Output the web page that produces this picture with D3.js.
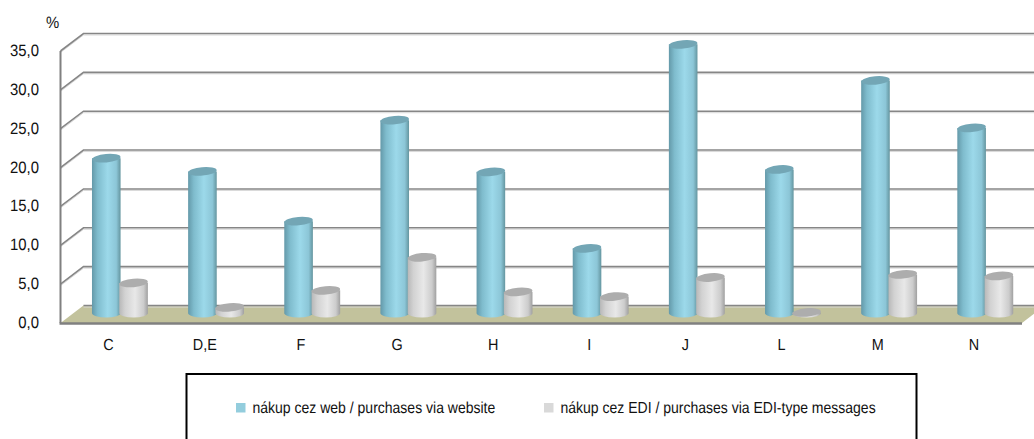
<!DOCTYPE html>
<html><head><meta charset="utf-8"><script src="https://cdn.jsdelivr.net/npm/d3@7/dist/d3.min.js"></script>
<style>html,body{margin:0;padding:0;background:#fff}svg{display:block}text{font-family:"Liberation Sans",Arial,sans-serif;fill:#111;text-rendering:geometricPrecision}</style></head><body>
<svg id="c" width="1034" height="439"></svg>
<script>
const categories=["C","D,E","F","G","H","I","J","L","M","N"];
const webValues=[19.95,18.25,11.85,24.85,18.2,8.35,34.6,18.5,29.95,23.85];
const ediValues=[3.9,0.75,2.95,7.2,2.75,2.15,4.6,0.1,5.0,4.8];
const yTicks=[0,5,10,15,20,25,30,35];
const seriesNames=["nákup cez web / purchases via website","nákup cez EDI / purchases via EDI-type messages"];
const svg=d3.select("#c"),defs=svg.append("defs");
function grad(id,stops){const g=defs.append("linearGradient").attr("id",id);stops.forEach(([o,c])=>g.append("stop").attr("offset",o).attr("stop-color",c));}
grad("gw",[[0,"#6499a9"],[.2,"#7fbccd"],[.55,"#9cd9ea"],[.85,"#8cc6d7"],[1,"#64959f"]]);
grad("ge",[[0,"#b8b8b8"],[.2,"#d2d2d2"],[.55,"#e8e8e8"],[.85,"#cccccc"],[1,"#a0a0a0"]]);
const frontY=d3.scaleLinear().domain([0,35]).range([323,51]);
const dx=23,dy=-17.5;
const x=d3.scaleBand().domain(categories).range([60.5,1022]);
const barY=v=>frontY(v)+dy/2-1;
const g=svg.append("g");
const right=1040;
g.append("path").attr("d",d3.line()([[60.5,323],[60.5+dx,323+dy],[1022+dx,323+dy],[1022,323]])).attr("fill","#c2c29c");
yTicks.forEach(t=>{
 const y=frontY(t);
 const pts=t===0?[[60.5+dx,y+dy],[right,y+dy]]:[[60.5,y],[60.5+dx,y+dy],[right,y+dy]];
 g.append("path").attr("d",d3.line()(pts)).attr("fill","none").attr("stroke","#d8d8d8").attr("stroke-width",1).attr("transform","translate(0,1.5)");
 g.append("path").attr("d",d3.line()(pts)).attr("fill","none").attr("stroke","#868686").attr("stroke-width",1.6);
});
g.append("line").attr("x1",60.5).attr("x2",60.5).attr("y1",frontY(35)).attr("y2",frontY(0)).attr("stroke","#808080").attr("stroke-width",2);
g.append("line").attr("x1",59.5).attr("x2",1022).attr("y1",frontY(0)+.5).attr("y2",frontY(0)+.5).attr("stroke","#808080").attr("stroke-width",2.4);
function cyl(cx,v,fill,top){
 const rx=14.3,ry=4.2,y0=barY(0),y1=barY(v);
 const s=g.append("g");
 s.append("path").attr("d",`M${cx-rx},${y1}L${cx-rx},${y0}A${rx},${ry} 0 0 0 ${cx+rx},${y0}L${cx+rx},${y1}Z`).attr("fill",`url(#${fill})`);
 s.append("ellipse").attr("cx",cx).attr("cy",y1).attr("rx",rx).attr("ry",ry).attr("fill",top).attr("transform",`rotate(-5 ${cx} ${y1})`);
}
categories.forEach((c,i)=>cyl(x(c)+x.bandwidth()/2-2.3,webValues[i],"gw","#73a6b5"));
categories.forEach((c,i)=>cyl(x(c)+x.bandwidth()/2+25,ediValues[i],"ge","#adadad"));
function label(px,py,size,sx,anchor,str){
 svg.append("text").attr("transform",`translate(${px},${py}) scale(${sx},1)`).attr("text-anchor",anchor).attr("font-size",size).text(str);
}
yTicks.forEach(t=>label(39,frontY(t)+5,16.5,.9,"end",d3.format(".1f")(t).replace(".",",")));
label(52.5,28,16.5,.9,"middle","%");
categories.forEach(c=>label(x(c)+x.bandwidth()/2,350,16,.9,"middle",c));
svg.append("rect").attr("x",186.5).attr("y",374).attr("width",730).attr("height",120).attr("fill","#fff").attr("stroke","#000").attr("stroke-width",2);
const legendX=[236,544],legendColor=["#93cddd","#d9d9d9"];
seriesNames.forEach((n,i)=>{
 svg.append("rect").attr("x",legendX[i]).attr("y",403).attr("width",9.5).attr("height",9.5).attr("fill",legendColor[i]);
 label(legendX[i]+16.5,413,16,.875,"start",n);
});
</script></body></html>
